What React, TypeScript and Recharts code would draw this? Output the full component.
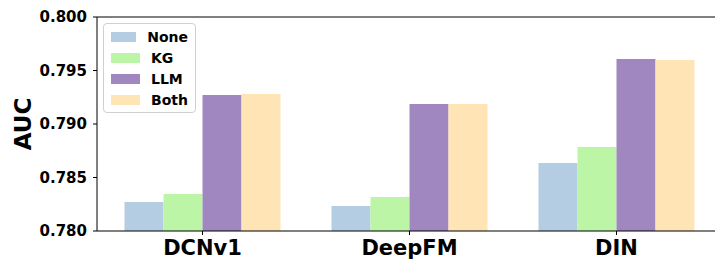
import React from 'react';
import { BarChart, Bar, XAxis, YAxis, Legend, ReferenceLine } from 'recharts';

const models = ['DCNv1', 'DeepFM', 'DIN'];
const noneAuc = [0.78271, 0.78234, 0.78636];
const kgAuc = [0.78346, 0.78318, 0.78785];
const llmAuc = [0.79271, 0.79187, 0.79607];
const bothAuc = [0.7928, 0.79187, 0.79598];
const yTicks = [0.78, 0.785, 0.79, 0.795, 0.8];

const series = [
    { key: 'None', color: '#b4cde2' },
    { key: 'KG', color: '#bdf5a6' },
    { key: 'LLM', color: '#a087c0' },
    { key: 'Both', color: '#ffe4b5' },
];

const data = models.map((m, i) => ({
    model: m,
    None: noneAuc[i],
    KG: kgAuc[i],
    LLM: llmAuc[i],
    Both: bothAuc[i],
}));

const font = 'DejaVu Sans';

const LegendBox = () => (
    <div
        style={{
            border: '1px solid #d0d0d0',
            borderRadius: 4,
            background: 'rgba(255,255,255,0.8)',
            padding: '2px 7px',
            fontFamily: font,
            fontWeight: 'bold',
            fontSize: 14,
            width: 77,
            boxSizing: 'content-box',
        }}
    >
        {series.map((s) => (
            <div key={s.key} style={{ display: 'flex', alignItems: 'center', height: 21 }}>
                <span style={{ width: 29, height: 10, background: s.color, marginRight: 11 }} />
                <span>{s.key}</span>
            </div>
        ))}
    </div>
);

const App = () => {
    return (
        <div style={{ position: 'absolute', left: 0, top: 0, width: 715, height: 259, overflow: 'hidden', background: '#fff' }}>
            <BarChart
                width={900}
                height={259}
                data={data}
                margin={{ top: 17, right: 0, bottom: 0, left: 0 }}
                barCategoryGap={25.5}
                barGap={0}
            >
                <XAxis
                    dataKey="model"
                    height={28}
                    padding={{ left: 2, right: 180 }}
                    tickSize={4}
                    tickMargin={5}
                    axisLine={{ stroke: '#000', strokeWidth: 1 }}
                    tickLine={{ stroke: '#000' }}
                    tick={{ fill: '#000', fontFamily: font, fontWeight: 'bold', fontSize: 21 }}
                    interval={0}
                />
                <YAxis
                    width={97}
                    domain={[0.78, 0.8]}
                    ticks={yTicks}
                    allowDataOverflow
                    tickSize={4}
                    tickMargin={6}
                    tickFormatter={(v: number) => v.toFixed(3)}
                    axisLine={{ stroke: '#000', strokeWidth: 1 }}
                    tickLine={{ stroke: '#000' }}
                    tick={{ fill: '#000', fontFamily: font, fontWeight: 'bold', fontSize: 15 }}
                    label={({ viewBox }: any) => (
                        <text
                            x={31}
                            y={viewBox.y + viewBox.height / 2}
                            transform={`rotate(-90 31 ${viewBox.y + viewBox.height / 2})`}
                            textAnchor="middle"
                            fontFamily={font}
                            fontWeight="bold"
                            fontSize={23}
                            fill="#000"
                        >
                            AUC
                        </text>
                    )}
                />
                <ReferenceLine y={0.8} stroke="#000" strokeWidth={1} />
                <Legend
                    layout="vertical"
                    align="center"
                    verticalAlign="middle"
                    wrapperStyle={{ left: 103, top: 23, width: 93 }}
                    content={() => <LegendBox />}
                />
                {series.map((s) => (
                    <Bar key={s.key} dataKey={s.key} fill={s.color} isAnimationActive={false} />
                ))}
            </BarChart>
        </div>
    );
};

export default App;
